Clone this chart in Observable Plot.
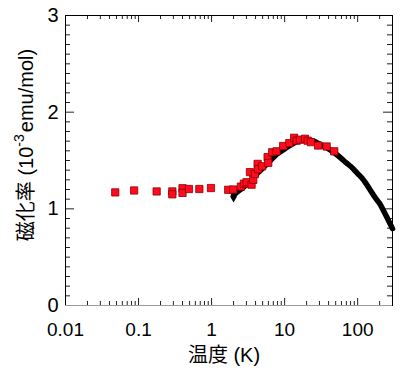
<!DOCTYPE html>
<html>
<head>
<meta charset="utf-8">
<script src="https://cdn.jsdelivr.net/npm/d3@7"></script>
<script src="https://cdn.jsdelivr.net/npm/@observablehq/plot@0.6"></script>
<style>
  html, body { margin: 0; padding: 0; background: #fff; }
  #chart svg { display: block; }
</style>
</head>
<body>
<div id="chart"></div>
<script>
// Black curve (dense measurement, 2–300 K)
const blackT   = [2.0, 2.3, 2.7, 3.0, 3.5, 4.0, 5.0, 6.0, 7.0, 8.0, 10, 12, 15, 18, 20, 25, 30, 40, 50, 60, 70, 80, 100, 120, 150, 180, 200, 230, 260, 300];
const blackChi = [1.14, 1.18, 1.22, 1.25, 1.30, 1.35, 1.42, 1.48, 1.53, 1.57, 1.62, 1.66, 1.70, 1.715, 1.715, 1.70, 1.67, 1.62, 1.57, 1.52, 1.475, 1.44, 1.365, 1.30, 1.19, 1.10, 1.055, 0.97, 0.89, 0.795];
// first point of the black series drawn as a diamond marker
const blackStartT = [2.0];
const blackStartChi = [1.14];

// Red squares (low-temperature measurement)
const redT   = [0.048, 0.087, 0.177, 0.29, 0.29, 0.40, 0.40, 0.49, 0.68, 0.98, 1.69, 1.98, 2.52, 2.77, 3.01, 3.53, 3.72, 3.35, 3.92, 4.27, 4.35, 4.93, 5.85, 5.97, 6.76, 7.76, 9.56, 11.6, 13.5, 14.6, 16.2, 19.0, 20.7, 22.9, 28.8, 37.6, 47.8];
const redChi = [1.17, 1.19, 1.18, 1.18, 1.15, 1.213, 1.165, 1.205, 1.205, 1.215, 1.197, 1.20, 1.23, 1.26, 1.275, 1.25, 1.30, 1.38, 1.36, 1.465, 1.41, 1.44, 1.535, 1.475, 1.585, 1.595, 1.65, 1.68, 1.735, 1.705, 1.715, 1.725, 1.705, 1.69, 1.655, 1.645, 1.595];

// Tick values
const xMajor = [0.01, 0.1, 1, 10, 100];
const xMajorLabels = ["0.01", "0.1", "1", "10", "100"];
const xMinor = [0.02, 0.03, 0.04, 0.05, 0.06, 0.07, 0.08, 0.09,
                0.2, 0.3, 0.4, 0.5, 0.6, 0.7, 0.8, 0.9,
                2, 3, 4, 5, 6, 7, 8, 9,
                20, 30, 40, 50, 60, 70, 80, 90, 200];
const yMajor = [0, 1, 2, 3];
const yMinor = [0.1, 0.2, 0.3, 0.4, 0.5, 0.6, 0.7, 0.8, 0.9,
                1.1, 1.2, 1.3, 1.4, 1.5, 1.6, 1.7, 1.8, 1.9,
                2.1, 2.2, 2.3, 2.4, 2.5, 2.6, 2.7, 2.8, 2.9];

const W = 402, H = 370, ML = 65, MR = 10, MT = 15, MB = 65;
const PW = W - ML - MR, PH = H - MT - MB;
const font = "'Liberation Sans', Arial, 'Noto Sans CJK JP', sans-serif";

const chart = Plot.plot({
  width: W, height: H,
  marginLeft: ML, marginRight: MR, marginTop: MT, marginBottom: MB,
  style: { fontFamily: font, background: "#fff", color: "#000" },
  x: { type: "log", domain: [0.01, 300] },
  y: { domain: [0, 3] },
  marks: [
    // bottom / top ticks (inward)
    Plot.tickX(xMinor, { x: d => d, insetTop: PH - 4, stroke: "#222", strokeWidth: 1 }),
    Plot.tickX(xMajor, { x: d => d, insetTop: PH - 7, stroke: "#222", strokeWidth: 1 }),
    Plot.tickX(xMinor, { x: d => d, insetBottom: PH - 4, stroke: "#222", strokeWidth: 1 }),
    Plot.tickX(xMajor, { x: d => d, insetBottom: PH - 7, stroke: "#222", strokeWidth: 1 }),
    // left / right ticks (inward)
    Plot.tickY(yMinor, { y: d => d, insetRight: PW - 5, stroke: "#222", strokeWidth: 1 }),
    Plot.tickY(yMajor, { y: d => d, insetRight: PW - 9, stroke: "#222", strokeWidth: 1 }),
    Plot.tickY(yMinor, { y: d => d, insetLeft: PW - 5, stroke: "#222", strokeWidth: 1 }),
    Plot.tickY(yMajor, { y: d => d, insetLeft: PW - 9, stroke: "#222", strokeWidth: 1 }),
    Plot.frame({ stroke: "#000", strokeWidth: 1 }),
    Plot.ruleY([0], { stroke: "#999", strokeWidth: 1.2 }),
    // tick labels
    Plot.axisX(xMajor, { tickSize: 0, tickPadding: 17, fontSize: 19, label: null,
      tickFormat: d => xMajorLabels[xMajor.indexOf(d)] }),
    Plot.axisY(yMajor, { tickSize: 0, tickPadding: 7, fontSize: 20, label: null,
      tickFormat: d => String(d) }),
    // data
    Plot.line(blackT, { x: blackT, y: blackChi, stroke: "#000", strokeWidth: 5.5, curve: "monotone-x", strokeLinecap: "round" }),
    Plot.dot(blackStartT, { x: blackStartT, y: blackStartChi, symbol: "diamond", r: 3.5, fill: "#000", dy: 1.5 }),
    Plot.dot(redT, { x: redT, y: redChi, symbol: "square", r: 4.1, fill: "#ff0a1e", stroke: "#8a0000", strokeWidth: 0.8 })
  ]
});

const svg = d3.select(chart);
// x axis title
svg.append("text")
  .attr("x", 224).attr("y", 362)
  .attr("text-anchor", "middle")
  .attr("font-size", 20).attr("font-family", font).attr("fill", "#000")
  .text("温度 (K)");
// y axis title with superscript
const yl = svg.append("text")
  .attr("transform", `translate(33,145) rotate(-90)`)
  .attr("text-anchor", "middle")
  .attr("font-size", 20).attr("font-family", font).attr("fill", "#000");
yl.append("tspan").text("磁化率 (10");
yl.append("tspan").attr("dy", -9).attr("font-size", 14).text("-3");
yl.append("tspan").attr("dy", 9).attr("dx", 2).text("emu/mol)");

document.getElementById("chart").appendChild(chart);
</script>
</body>
</html>
